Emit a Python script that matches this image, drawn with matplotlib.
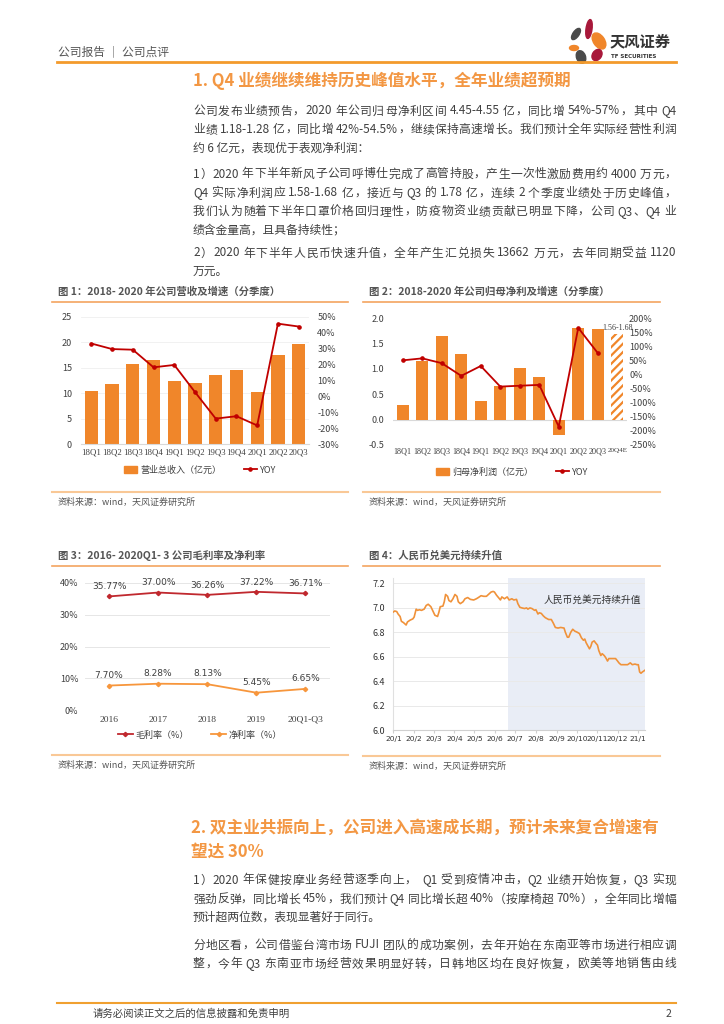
import re
import matplotlib
matplotlib.use("Agg")
import matplotlib.pyplot as plt
from matplotlib.patches import Ellipse, Patch
from matplotlib.lines import Line2D
import numpy as np
import pandas as pd

plt.rcParams['font.family'] = ['Noto Sans CJK SC', 'DejaVu Sans']
plt.rcParams['hatch.linewidth'] = 1.6

# ---------------- data ----------------
quarters = ["18Q1", "18Q2", "18Q3", "18Q4", "19Q1", "19Q2", "19Q3", "19Q4", "20Q1", "20Q2", "20Q3"]
revenue = [10.4, 11.8, 15.7, 16.6, 12.4, 12.1, 13.6, 14.6, 10.2, 17.6, 19.6]          # 亿元
revenue_yoy = [33.3, 29.8, 29.4, 18.3, 19.8, 2.7, -14.0, -12.5, -18.3, 45.8, 44.0]     # %

profit_quarters = quarters + ["20Q4E"]
profit = [0.28, 1.16, 1.65, 1.30, 0.36, 0.67, 1.01, 0.83, -0.31, 1.80, 1.78]          # 亿元
profit_q4e = 1.68
profit_q4e_label = "1.56-1.68"
profit_yoy = [50, 57, 40, -5, 30, -43, -40, -37, -185, 165, 76]                          # %

years = ["2016", "2017", "2018", "2019", "20Q1-Q3"]
gross_margin = [35.77, 37.00, 36.26, 37.22, 36.71]
net_margin = [7.70, 8.28, 8.13, 5.45, 6.65]

# 人民币兑美元 (days since 2020-01-01, rate)
rate_days = [0, 2, 5, 7, 10, 12, 15, 17, 19, 21, 25, 29, 31, 34, 36, 39, 42, 46, 49, 52,
             56, 59, 62, 66, 68, 70, 74, 76, 78, 81, 83, 86, 89, 92, 95, 97, 100, 104, 107, 111,
             115, 120, 124, 127, 131, 135, 139, 142, 146, 149, 151, 154, 157, 160, 162, 166, 170, 173, 177, 180,
             184, 186, 189, 192, 196, 199, 201, 204, 207, 211, 213, 216, 218, 221, 224, 227, 232, 236, 239, 242,
             246, 250, 255, 257, 260, 262, 265, 268, 271, 275, 278, 281, 284, 286, 288, 291, 293, 295, 297, 300,
             302, 305, 307, 310, 312, 315, 317, 320, 322, 326, 330, 332, 335, 337, 340, 345, 350, 354, 357, 361,
             364, 366, 368, 370, 372, 376]
rate = [6.967, 6.975, 6.97, 6.95, 6.93, 6.89, 6.88, 6.87, 6.86, 6.885, 6.90, 6.91, 6.925, 6.99, 6.98, 6.985, 6.98, 6.99, 7.02, 7.03,
        7.01, 6.975, 6.94, 6.93, 6.965, 7.01, 7.015, 7.05, 7.11, 7.095, 7.06, 7.05, 7.075, 7.11, 7.095, 7.05, 7.035, 7.05, 7.075, 7.085,
        7.07, 7.065, 7.075, 7.085, 7.10, 7.095, 7.095, 7.11, 7.13, 7.135, 7.13, 7.105, 7.085, 7.065, 7.09, 7.075, 7.09, 7.065, 7.075, 7.065,
        7.07, 7.035, 7.005, 7.00, 6.995, 7.00, 6.99, 7.00, 6.995, 6.98, 6.985, 6.95, 6.96, 6.955, 6.935, 6.92, 6.905, 6.905, 6.875, 6.84,
        6.835, 6.84, 6.835, 6.80, 6.76, 6.76, 6.80, 6.825, 6.81, 6.80, 6.79, 6.755, 6.735, 6.745, 6.715, 6.685, 6.665, 6.685, 6.72, 6.73,
        6.715, 6.695, 6.65, 6.61, 6.625, 6.61, 6.595, 6.565, 6.585, 6.585, 6.585, 6.585, 6.565, 6.55, 6.535, 6.535, 6.535, 6.55, 6.535, 6.54,
        6.535, 6.535, 6.475, 6.465, 6.475, 6.49]
shade_start = "2020-06-21"

# ---------------- page helpers ----------------
W, H = 724, 1024
ORANGE = "#F0862A"
TITLE_OR = "#F39743"
DARKRED = "#C00000"
TXT = "#404040"


def fx(x):
    return x / W


def fy(y):
    return 1 - y / H


def box(x0, y0, x1, y1):
    return [fx(x0), fy(y1), (x1 - x0) / W, (y1 - y0) / H]


fig = plt.figure(figsize=(W / 100, H / 100), dpi=100)
fig.patch.set_facecolor("white")
renderer = fig.canvas.get_renderer()


def hline(x0, x1, y, color, lw):
    fig.add_artist(Line2D([fx(x0), fx(x1)], [fy(y), fy(y)], color=color, lw=lw))


def text_w(s, **kw):
    t = fig.text(0, 0, s, **kw)
    w = t.get_window_extent(renderer).width
    t.remove()
    return w


def justified(s, x0, x1, y, **kw):
    # spread the tokens of one line so it fills x0..x1 like the justified page text
    toks = [(m.start(), m.group()) for m in re.finditer(r"[A-Za-z0-9.%\-]+|[^\sA-Za-z0-9.%\-]", s)]
    ref = text_w("|", **kw)
    natural = text_w(s, **kw)
    extra = max(0.0, (x1 - x0) - natural)
    n = len(toks)
    for i, (start, tok) in enumerate(toks):
        off = text_w(s[:start] + "|", **kw) - ref if start > 0 else 0.0
        xp = x0 + off + (extra * i / (n - 1) if n > 1 else 0)
        fig.text(fx(xp), fy(y), tok, ha="left", va="center", **kw)


def paragraph(lines, x0, x1, ys, size=8.5, color=TXT, last_justified=False):
    for i, (s, y) in enumerate(zip(lines, ys)):
        if i < len(lines) - 1 or last_justified:
            justified(s, x0, x1, y, fontsize=size, color=color)
        else:
            fig.text(fx(x0), fy(y), s, ha="left", va="center", fontsize=size, color=color)


# header
fig.text(fx(58), fy(52), "公司报告 ｜ 公司点评", ha="left", va="center", fontsize=8.5, color="#555555")
hline(57, 676, 62, "#F39A2C", 2.0)
fig.text(fx(610), fy(41), "天风证券", ha="left", va="center", fontsize=11, color="#333333", fontweight="bold")
fig.text(fx(611), fy(56), "TF SECURITIES", ha="left", va="center", fontsize=4, color="#333333",
         family=["DejaVu Sans"], fontweight="bold")

# logo petals
axl = fig.add_axes(box(564, 18, 608, 64))
axl.set_xlim(564, 608)
axl.set_ylim(64, 18)
axl.axis("off")
for (cx, cy, w, h, ang, c) in [(589, 29, 6, 19, 8, "#A8183A"), (599, 41, 11, 18, -35, ORANGE),
                               (576, 34, 6, 13, 35, "#4A4A4A"), (574, 48, 9, 5, 0, ORANGE),
                               (597, 55, 9, 12, 35, "#A8183A"), (581, 57, 9, 13, -20, "#4A4A4A")]:
    axl.add_patch(Ellipse((cx, cy), w, h, angle=ang, color=c))

# section 1
fig.text(fx(193), fy(81), "1. Q4 业绩继续维持历史峰值水平，全年业绩超预期", ha="left", va="center",
         fontsize=12, color=TITLE_OR, fontweight="bold")
paragraph(["公司发布业绩预告，2020 年公司归母净利区间 4.45-4.55 亿，同比增 54%-57%，其中 Q4",
           "业绩 1.18-1.28 亿，同比增 42%-54.5%，继续保持高速增长。我们预计全年实际经营性利润",
           "约 6 亿元，表现优于表观净利润："], 193, 676, [111, 129.5, 148])
paragraph(["1）2020 年下半年新风子公司呼博仕完成了高管持股，产生一次性激励费用约 4000 万元，",
           "Q4 实际净利润应 1.58-1.68 亿，接近与 Q3 的 1.78 亿，连续 2 个季度业绩处于历史峰值，",
           "我们认为随着下半年口罩价格回归理性，防疫物资业绩贡献已明显下降，公司 Q3、Q4 业",
           "绩含金量高，且具备持续性；"], 193, 676, [174, 193, 211.5, 230])
paragraph(["2）2020 年下半年人民币快速升值，全年产生汇兑损失 13662 万元，去年同期受益 1120",
           "万元。"], 193, 676, [253, 271])


def chart_frame(x0, x1, title, ytitle, yline, ysrc_line, ysrc):
    fig.text(fx(x0 + 6), fy(ytitle), title, ha="left", va="center", fontsize=7.5, color="#555555",
             fontweight="bold")
    hline(x0, x1, yline, "#F4A460", 1.2)
    hline(x0, x1, ysrc_line, "#F9C896", 1.5)
    fig.text(fx(x0 + 6), fy(ysrc), "资料来源：wind，天风证券研究所", ha="left", va="center",
             fontsize=6.5, color="#555555")


chart_frame(52, 348, "图 1：2018- 2020 年公司营收及增速（分季度）", 292, 302, 492, 502)
chart_frame(363, 660, "图 2：2018-2020 年公司归母净利及增速（分季度）", 292, 302, 492, 502)
chart_frame(52, 348, "图 3：2016- 2020Q1- 3 公司毛利率及净利率", 556, 566, 755, 765)
chart_frame(363, 660, "图 4：人民币兑美元持续升值", 556, 566, 756, 766)

SERIF = ["Liberation Serif", "DejaVu Serif"]


def clean(ax):
    for s in ["top", "right", "left"]:
        ax.spines[s].set_visible(False)
    ax.spines["bottom"].set_color("#D9D9D9")
    ax.tick_params(length=0, labelsize=6.5, labelcolor=TXT)


# ---------- chart 1 ----------
ax1 = fig.add_axes(box(81, 317, 309, 444))
x1 = np.arange(len(quarters))
ax1.bar(x1, revenue, width=0.64, color=ORANGE, zorder=2)
ax1.set_xlim(-0.5, len(quarters) - 0.5)
ax1.set_ylim(0, 25)
ax1.set_yticks(range(0, 26, 5))
ax1.set_xticks(x1)
ax1.set_xticklabels(quarters, family=SERIF)
ax1.grid(axis="y", color="#EFEFEF", lw=0.6, zorder=0)
clean(ax1)
ax1.tick_params(axis="y", pad=6.5)
ax1.tick_params(axis="x", pad=3, labelsize=6.3)
ax1b = ax1.twinx()
ax1b.plot(x1, revenue_yoy, color=DARKRED, lw=1.3, marker="o", ms=2.3, zorder=3)
ax1b.set_ylim(-30, 50)
ax1b.set_yticks(range(-30, 51, 10))
ax1b.set_yticklabels([f"{v}%" for v in range(-30, 51, 10)])
clean(ax1b)
ax1b.spines["bottom"].set_visible(False)
ax1b.tick_params(axis="y", pad=6)
fig.legend([Patch(color=ORANGE), Line2D([], [], color=DARKRED, lw=1.3, marker="o", ms=2.3)],
           ["营业总收入（亿元）", "YOY"], loc="center", bbox_to_anchor=(fx(200), fy(470)), ncol=2,
           frameon=False, fontsize=6.5, handlelength=1.5, handleheight=0.7, columnspacing=2.5,
           handletextpad=0.3, labelcolor=TXT)

# ---------- chart 2 ----------
ax2 = fig.add_axes(box(393, 318, 627, 445))
x2 = np.arange(len(profit_quarters))
ax2.bar(x2[:len(profit)], profit, width=0.6, color=ORANGE, zorder=2)
ax2.bar(x2[-1], profit_q4e, width=0.6, facecolor="white", edgecolor=ORANGE, hatch="////", lw=0, zorder=2)
ax2.text(x2[-1], profit_q4e + 0.04, profit_q4e_label, ha="center", va="bottom", fontsize=5.8,
         family=SERIF, color=TXT)
ax2.axhline(0, color="#D9D9D9", lw=0.8, zorder=1)
ax2.set_xlim(-0.5, len(profit_quarters) - 0.5)
ax2.set_ylim(-0.5, 2.0)
ax2.set_yticks(np.arange(-0.5, 2.01, 0.5))
ax2.set_yticklabels([f"{v:.1f}" for v in np.arange(-0.5, 2.01, 0.5)])
ax2.set_xticks(x2)
ax2.set_xticklabels(profit_quarters, family=SERIF)
clean(ax2)
ax2.spines["bottom"].set_visible(False)
ax2.tick_params(axis="y", pad=6.5)
ax2.tick_params(axis="x", pad=2, labelsize=5.9)
ax2.get_xticklabels()[-1].set_fontsize(5.1)
ax2b = ax2.twinx()
ax2b.plot(x2[:len(profit_yoy)], profit_yoy, color=DARKRED, lw=1.3, marker="o", ms=2.3, zorder=3)
ax2b.set_ylim(-250, 200)
ax2b.set_yticks(range(-250, 201, 50))
ax2b.set_yticklabels([f"{v}%" for v in range(-250, 201, 50)])
clean(ax2b)
ax2b.spines["bottom"].set_visible(False)
ax2b.tick_params(axis="y", pad=1.5)
fig.legend([Patch(color=ORANGE), Line2D([], [], color=DARKRED, lw=1.3, marker="o", ms=2.3)],
           ["归母净利润（亿元）", "YOY"], loc="center", bbox_to_anchor=(fx(512), fy(472)), ncol=2,
           frameon=False, fontsize=6.5, handlelength=1.5, handleheight=0.7, columnspacing=2.5,
           handletextpad=0.3, labelcolor=TXT)

# ---------- chart 3 ----------
GM_C = "#C0282E"
NM_C = "#F7963C"
ax3 = fig.add_axes(box(84.5, 583, 330, 710))
x3 = np.arange(len(years))
ax3.plot(x3, gross_margin, color=GM_C, lw=1.3, marker="D", ms=2.2, zorder=3)
ax3.plot(x3, net_margin, color=NM_C, lw=1.3, marker="D", ms=2.2, zorder=3)
for xi, v in zip(x3, gross_margin):
    ax3.annotate(f"{v:.2f}%", (xi, v), xytext=(0, 7), textcoords="offset points", ha="center",
                 va="center", fontsize=6.5, color=TXT, family=["DejaVu Sans"])
for xi, v in zip(x3, net_margin):
    ax3.annotate(f"{v:.2f}%", (xi, v), xytext=(0, 7.5), textcoords="offset points", ha="center",
                 va="center", fontsize=6.5, color=TXT, family=["DejaVu Sans"])
ax3.set_xlim(-0.5, len(years) - 0.5)
ax3.set_ylim(0, 40)
ax3.set_yticks(range(0, 41, 10))
ax3.set_yticklabels([f"{v}%" for v in range(0, 41, 10)])
ax3.set_xticks(x3)
ax3.set_xticklabels(years, family=SERIF)
ax3.grid(axis="y", color="#E6E6E6", lw=0.7, zorder=0)
clean(ax3)
ax3.spines["bottom"].set_visible(False)
ax3.tick_params(axis="y", pad=4.5)
ax3.tick_params(axis="x", pad=4, labelsize=6.8)
fig.legend([Line2D([], [], color=GM_C, lw=1.3, marker="D", ms=2.2),
            Line2D([], [], color=NM_C, lw=1.3, marker="D", ms=2.2)],
           ["毛利率（%）", "净利率（%）"], loc="center", bbox_to_anchor=(fx(200), fy(735)), ncol=2,
           frameon=False, fontsize=6.5, handlelength=1.6, columnspacing=2.5, handletextpad=0.3,
           labelcolor=TXT)

# ---------- chart 4 ----------
ax4 = fig.add_axes(box(393.4, 578, 645, 730))
start = pd.Timestamp("2020-01-01")
rate_dates = start + pd.to_timedelta(rate_days, unit="D")
ax4.axvspan(pd.Timestamp(shade_start), rate_dates[-1], color="#E9EDF6", lw=0, zorder=0)
ax4.plot(rate_dates, rate, color="#F0923A", lw=1.2, zorder=3)
ax4.set_xlim(start, rate_dates[-1])
ax4.set_ylim(6.0, 7.245)
ax4.set_yticks(np.arange(6.0, 7.21, 0.2))
ax4.set_yticklabels([f"{v:.1f}" for v in np.arange(6.0, 7.21, 0.2)])
months = pd.date_range("2020-01-01", "2021-01-01", freq="MS")
ax4.set_xticks(months)
ax4.set_xticklabels([f"{d.year % 100}/{d.month}" for d in months], family=["DejaVu Sans"])
ax4.grid(axis="y", color="#E9E9E9", lw=0.7, zorder=1)
for s in ["top", "right"]:
    ax4.spines[s].set_visible(False)
ax4.spines["left"].set_color("#E0E0E0")
ax4.spines["bottom"].set_color("#D0D0D0")
ax4.tick_params(axis="y", length=0, labelsize=6.5, labelcolor="#333333", pad=6)
ax4.tick_params(axis="x", length=2, color="#D0D0D0", labelsize=5.4, labelcolor="#333333", pad=2)
ax4.text(pd.Timestamp("2020-10-25"), 7.07, "人民币兑美元持续升值", ha="center", va="center",
         fontsize=7, color="#333333")

# section 2
fig.text(fx(191), fy(828), "2. 双主业共振向上，公司进入高速成长期，预计未来复合增速有", ha="left", va="center",
         fontsize=12, color=TITLE_OR, fontweight="bold")
fig.text(fx(191), fy(852), "望达 30%", ha="left", va="center", fontsize=12, color=TITLE_OR, fontweight="bold")
paragraph(["1）2020 年保健按摩业务经营逐季向上，  Q1 受到疫情冲击，Q2 业绩开始恢复，Q3 实现",
           "强劲反弹，同比增长 45%，我们预计 Q4 同比增长超 40%（按摩椅超 70%），全年同比增幅",
           "预计超两位数，表现显著好于同行。"], 193, 676, [880, 899, 917.5])
# this paragraph continues on the next page, so its last line is justified too
paragraph(["分地区看，公司借鉴台湾市场 FUJI 团队的成功案例，去年开始在东南亚等市场进行相应调",
           "整，今年 Q3 东南亚市场经营效果明显好转，日韩地区均在良好恢复，欧美等地销售由线"],
          193, 676, [945, 964], last_justified=True)

# footer
hline(57, 676, 1003, "#F0A030", 1.5)
fig.text(fx(93), fy(1014), "请务必阅读正文之后的信息披露和免责申明", ha="left", va="center", fontsize=7.5, color=TXT)
fig.text(fx(668), fy(1014), "2", ha="center", va="center", fontsize=7.5, color=TXT)

fig.savefig("out.png", dpi=100)
